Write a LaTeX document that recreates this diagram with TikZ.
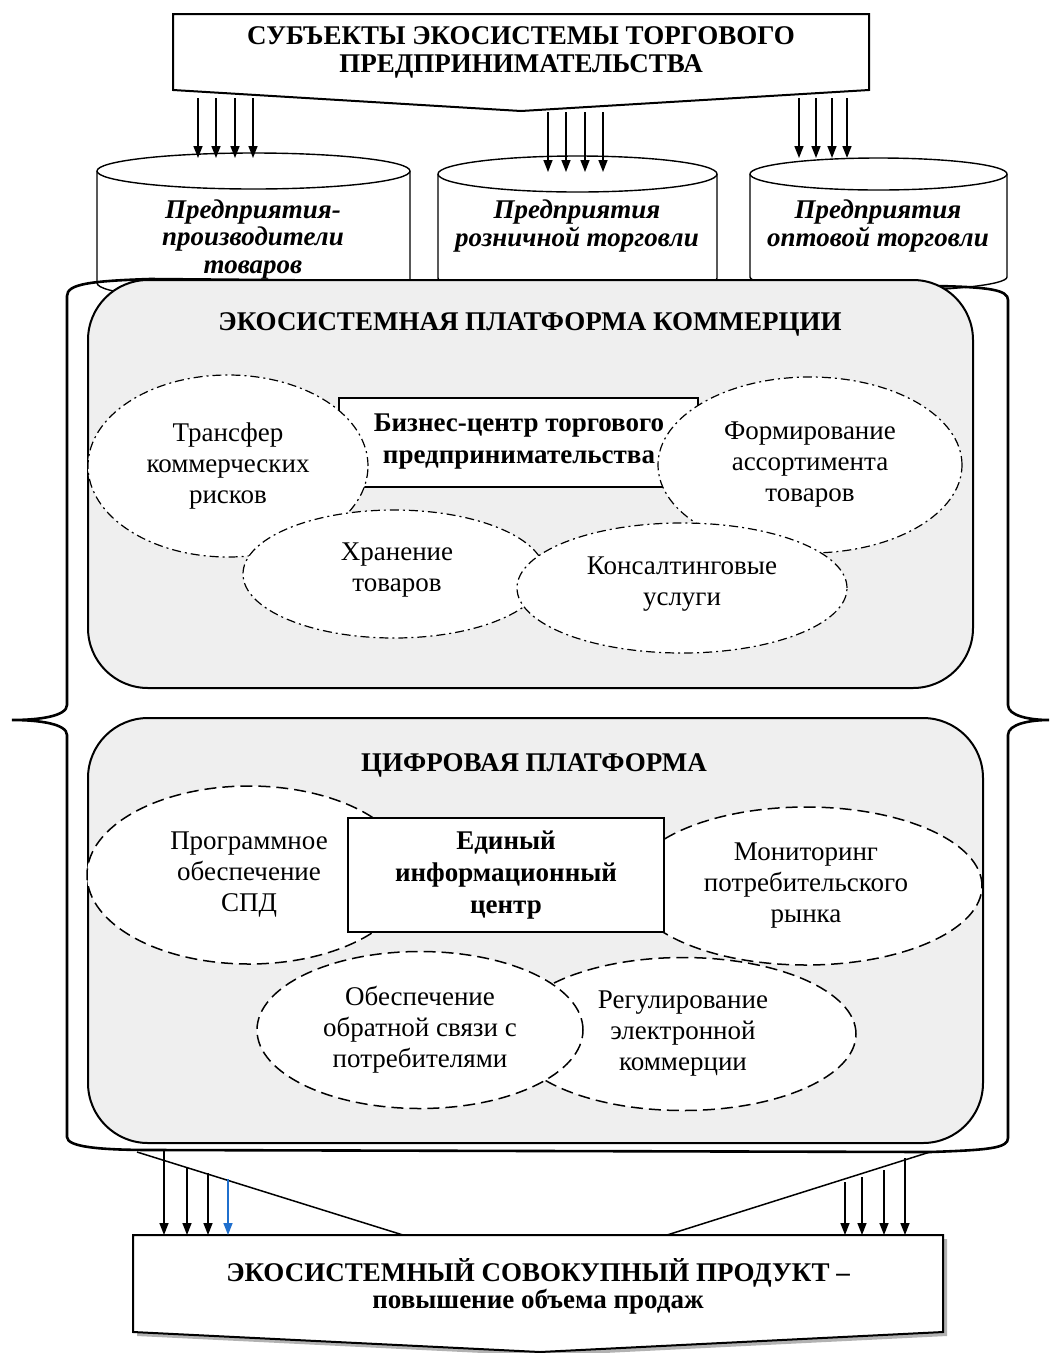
\documentclass[tikz,border=0pt]{standalone}
\usepackage{fontspec}
\setmainfont{Liberation Serif}
\usetikzlibrary{shapes.geometric,arrows.meta}

\definecolor{platgray}{RGB}{239,239,239}
\definecolor{arrblue}{RGB}{31,111,205}

\begin{document}
\begin{tikzpicture}[
        x=1pt, y=-1pt,
        plaintxt/.style={
            font=\fontsize{27}{31}\selectfont,
            align=center,
            inner sep=0pt
        },
        headtxt/.style={
            font=\fontsize{27}{28}\selectfont\bfseries,
            align=center,
            inner sep=0pt
        },
        drumtxt/.style={
            font=\fontsize{27}{27.5}\selectfont\bfseries\itshape,
            align=center,
            inner sep=0pt
        },
        centretxt/.style={
            font=\fontsize{27}{32}\selectfont\bfseries,
            align=center,
            inner sep=0pt
        },
        drum/.style={draw, fill=white, line width=1.4pt},
        arr/.style={line width=1.5pt, -{Triangle[length=12pt,width=9pt]}},
        platform/.style={
            draw, line width=2pt,
            fill=platgray,
            rounded corners=60pt,
            inner sep=0pt
        },
        dotoval/.style={
            ellipse, draw, fill=white,
            line width=1.2pt,
            dash pattern=on 9pt off 4pt on 2pt off 4pt,
            inner sep=0pt
        },
        dashoval/.style={
            ellipse, draw, fill=white,
            line width=1.5pt,
            dash pattern=on 12pt off 6pt,
            inner sep=0pt
        },
        centrebox/.style={draw, fill=white, line width=1.5pt, inner sep=0pt}
    ]
\useasboundingbox (0,0) rectangle (1051,1353);

% Top banner: subjects of the ecosystem
\draw[line width=2pt, fill=white]
  (173,14) -- (869,14) -- (869,90) -- (521,111) -- (173,90) -- cycle;
\node[headtxt] (subj) at (521,52) {СУБЪЕКТЫ ЭКОСИСТЕМЫ ТОРГОВОГО\\ПРЕДПРИНИМАТЕЛЬСТВА};

% Three kinds of enterprises
\draw[drum] (97,171) -- (97,283)
  arc[start angle=180, end angle=360, x radius=156.5pt, y radius=18pt] -- (410,171)
  arc[start angle=0, end angle=180, x radius=156.5pt, y radius=18pt] -- cycle;
\draw[line width=1.4pt] (97,171) arc[start angle=180, end angle=360, x radius=156.5pt, y radius=18pt];
\node[drumtxt] (maker) at (253,239) {Предприятия-\\производители\\товаров};

\draw[drum] (438,174) -- (438,278)
  arc[start angle=180, end angle=360, x radius=139.5pt, y radius=18pt] -- (717,174)
  arc[start angle=0, end angle=180, x radius=139.5pt, y radius=18pt] -- cycle;
\draw[line width=1.4pt] (438,174) arc[start angle=180, end angle=360, x radius=139.5pt, y radius=18pt];
\node[drumtxt] (retail) at (577,226) {Предприятия\\розничной торговли};

\draw[drum] (750,174) -- (750,277)
  arc[start angle=180, end angle=360, x radius=128.5pt, y radius=14pt] -- (1007,174)
  arc[start angle=0, end angle=180, x radius=128.5pt, y radius=16pt] -- cycle;
\draw[line width=1.4pt] (750,174) arc[start angle=180, end angle=360, x radius=128.5pt, y radius=16pt];
\node[drumtxt] (whole) at (878,226) {Предприятия\\оптовой торговли};

% Arrows from the banner to the enterprises
\coordinate (s1) at (198,98);  \coordinate (e1) at (198,158);
\coordinate (s2) at (548,112); \coordinate (e2) at (548,172);
\coordinate (s3) at (799,98);  \coordinate (e3) at (799,158);
\foreach \dx in {0,18,37,55} {
    \draw[arr] ([xshift=\dx]s1) -- ([xshift=\dx]e1);
    \draw[arr] ([xshift=\dx]s2) -- ([xshift=\dx]e2);
}
\foreach \dx in {0,17,33,48}
    \draw[arr] ([xshift=\dx]s3) -- ([xshift=\dx]e3);

% Curly frame round both platforms
\draw[line width=2.6pt]
  (150,279) .. controls (90,281) and (67,284) .. (67,296) -- (67,705)
  .. controls (67,716) and (40,720) .. (12,720)
  .. controls (40,720) and (67,724) .. (67,735) -- (67,1137)
  .. controls (67,1147) and (100,1150) .. (153,1150) -- (930,1152)
  .. controls (990,1150) and (1008,1148) .. (1008,1138) -- (1008,735)
  .. controls (1008,724) and (1030,720) .. (1049,720)
  .. controls (1030,720) and (1008,716) .. (1008,705) -- (1008,300)
  .. controls (1008,290) and (990,287) .. (935,286) -- cycle;

% Commerce platform
\node[platform, minimum width=885pt, minimum height=408pt] (eco) at (530.5,484) {};
\node[headtxt] (ecotitle) at (530,324) {ЭКОСИСТЕМНАЯ ПЛАТФОРМА КОММЕРЦИИ};

\node[centrebox, minimum width=359pt, minimum height=89pt] (biz) at (518.5,442.5) {};
\node[dotoval, minimum width=280pt, minimum height=182pt] (risk) at (228,466) {};
\node[dotoval, minimum width=304pt, minimum height=176pt] (assort) at (810,465) {};
\node[dotoval, minimum width=302pt, minimum height=128pt] (store) at (394,574) {};
\node[dotoval, minimum width=330pt, minimum height=130pt] (consult) at (682,588) {};

\node[plaintxt] (risktxt) at (risk.center) {Трансфер\\коммерческих\\рисков};
\node[plaintxt] (assorttxt) at (assort.center) {Формирование\\ассортимента\\товаров};
\node[plaintxt] (storetxt) at (397,570) {Хранение\\товаров};
\node[plaintxt] (consulttxt) at (682,584) {Консалтинговые\\услуги};
\node[centretxt] (biztxt) at (519,442) {Бизнес-центр торгового\\предпринимательства};

% Digital platform
\node[platform, minimum width=895pt, minimum height=425pt] (dig) at (535.5,930.5) {};
\node[headtxt] (digtitle) at (534,765) {ЦИФРОВАЯ ПЛАТФОРМА};

\node[dashoval, minimum width=324pt, minimum height=178pt, plaintxt] (soft) at (249,875)
  {Программное\\обеспечение\\СПД};
\node[dashoval, minimum width=352pt, minimum height=158pt, plaintxt] (monit) at (806,886)
  {Мониторинг\\потребительского\\рынка};
\node[dashoval, minimum width=346pt, minimum height=153pt, plaintxt] (reg) at (683,1034)
  {Регулирование\\электронной\\коммерции};
\node[dashoval, minimum width=326pt, minimum height=157pt, plaintxt] (feed) at (420,1030)
  {Обеспечение\\обратной связи с\\потребителями};
\node[centrebox, centretxt, minimum width=316pt, minimum height=114pt] (info) at (506,875)
  {Единый\\информационный\\центр};

% Funnel towards the product
\coordinate (fl) at (137,1152); \coordinate (fr) at (930,1152);
\coordinate (bl) at (403,1235); \coordinate (br) at (667,1235);
\draw[line width=1.5pt] (fl) -- (bl);
\draw[line width=1.5pt] (fr) -- (br);

% Bottom banner with its shadow
\fill[gray!60] (137,1239) -- (947,1239) -- (947,1336) -- (544,1356) -- (137,1336) -- cycle;
\draw[line width=2pt, fill=white]
  (133,1235) -- (943,1235) -- (943,1332) -- (540,1352) -- (133,1332) -- cycle;
\coordinate (prodtop) at (540,1235);
\node[headtxt] (prod) at (538,1273) {ЭКОСИСТЕМНЫЙ СОВОКУПНЫЙ ПРОДУКТ –};
\node[headtxt] (prodsub) at (538,1302) {повышение объема продаж};

% Arrows into the product
\foreach \x/\y in {164/1151,187/1167,208/1173}
    \draw[arr] (\x,\y) -- (\x,0 |- prodtop);
\draw[arr, arrblue] (228,1179) -- (228,0 |- prodtop);
\foreach \x/\y in {845/1182,862/1177,884/1170,905/1158}
    \draw[arr] (\x,\y) -- (\x,0 |- prodtop);

\end{tikzpicture}
\end{document}
